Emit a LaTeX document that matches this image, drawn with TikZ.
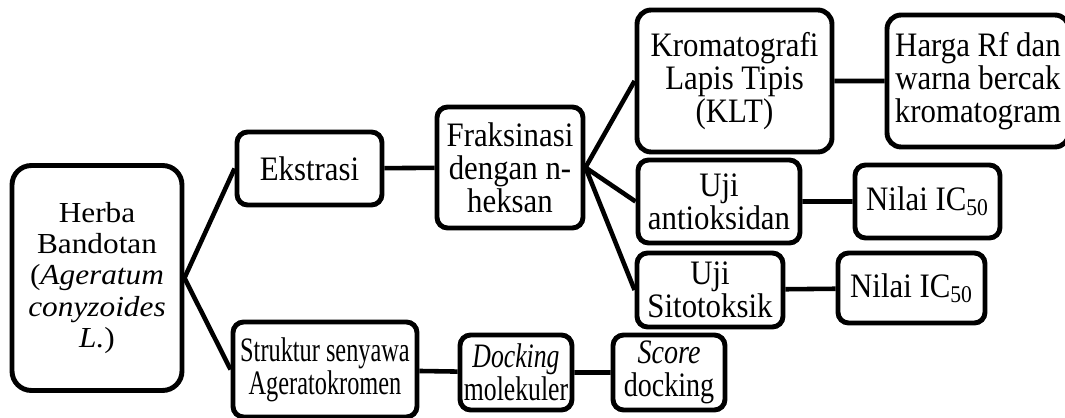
\documentclass[tikz,border=0pt]{standalone}
\usepackage{fontspec}
\setmainfont[FakeStretch=0.9]{Liberation Serif}
\newfontfamily\herbaserif[FakeStretch=1.08]{Liberation Serif}
\newfontfamily\narrowserif[FakeStretch=0.71]{Liberation Serif}
\newfontfamily\dockserif[FakeStretch=0.75]{Liberation Serif}
\newfontfamily\semiserif[FakeStretch=0.82]{Liberation Serif}
\begin{document}
\begin{tikzpicture}[x=0.02cm,y=-0.02cm,
  box/.style={draw,line width=2.8pt,rounded corners=6pt,fill=white,align=center,
    inner sep=1pt,font=\fontsize{19.5}{18.7}\selectfont},
  link/.style={line width=2.6pt}]
\useasboundingbox (0,0) rectangle (1065,418);
\clip (0,0) rectangle (1065,418);
\node[box,rounded corners=11pt,minimum width=3.4cm,minimum height=4.5cm,
  font=\herbaserif\fontsize{16.5}{17.9}\selectfont] (herba) at (97,278)
  {Herba\\Bandotan\\(\textit{Ageratum}\\\textit{conyzoides}\\\textit{L.})};
\node[box,minimum width=2.9cm,minimum height=1.46cm] (ekstrasi) at (309.5,168.5) {Ekstrasi};
\node[box,minimum width=2.92cm,minimum height=2.42cm] (fraksi) at (510,167.5) {Fraksinasi\\dengan n-\\heksan};
\node[box,rounded corners=8pt,minimum width=3.9cm,minimum height=2.84cm] (klt) at (734.5,81) {Kromatografi\\Lapis Tipis\\(KLT)};
\node[box,rounded corners=8pt,minimum width=3.64cm,minimum height=2.64cm] (harga) at (978,81) {Harga Rf dan\\warna bercak\\kromatogram};
\node[box,minimum width=3.24cm,minimum height=1.66cm] (antiok) at (719,201.5) {Uji\\antioksidan};
\node[box,minimum width=2.9cm,minimum height=1.46cm] (icA) at (927.5,201.5) {Nilai IC\textsubscript{50}};
\node[box,minimum width=2.92cm,minimum height=1.48cm] (sitotok) at (710,290) {Uji\\Sitotoksik};
\node[box,minimum width=2.94cm,minimum height=1.4cm] (icB) at (911.5,288) {Nilai IC\textsubscript{50}};
\node[box,minimum width=3.68cm,minimum height=1.9cm,font=\narrowserif\fontsize{19.5}{18.7}\selectfont] (struktur) at (325,369.5) {Struktur senyawa\\Ageratokromen};
\node[box,minimum width=2.24cm,minimum height=1.5cm,font=\dockserif\fontsize{19.5}{18.7}\selectfont] (docking) at (516,372.5) {\textit{Docking}\\molekuler};
\node[box,minimum width=2.24cm,minimum height=1.5cm,font=\semiserif\fontsize{19.5}{18.7}\selectfont] (score) at (669,372.5) {\textit{Score}\\docking};
\draw[link] (herba.east) -- (ekstrasi.west) (herba.east) -- (struktur.west);
\draw[link] (ekstrasi) -- (fraksi);
\draw[link] (fraksi.east) -- (klt.west) (fraksi.east) -- (antiok.west) (fraksi.east) -- (sitotok.west);
\draw[link] (klt) -- (harga) (antiok) -- (icA) (sitotok) -- (icB);
\draw[link] (struktur) -- (docking) (docking) -- (score);
\end{tikzpicture}
\end{document}
